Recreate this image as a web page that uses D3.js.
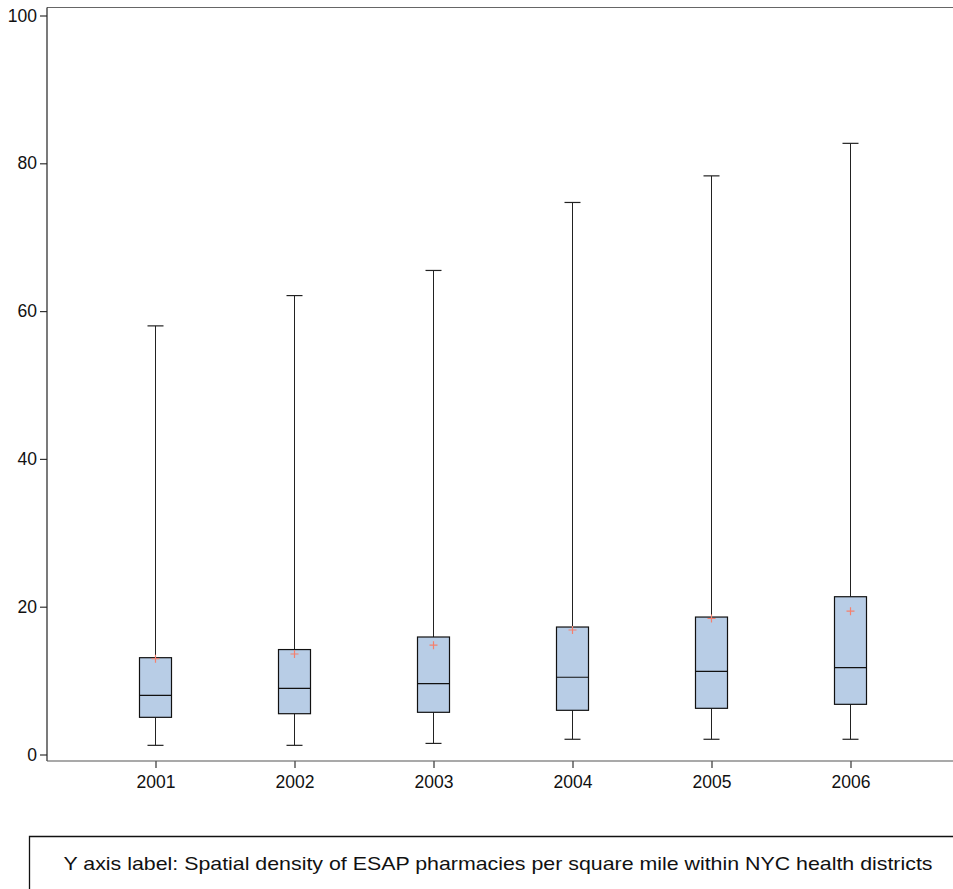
<!DOCTYPE html>
<html><head><meta charset="utf-8">
<script src="https://cdn.jsdelivr.net/npm/d3@7"></script>
<style>body{margin:0;background:#fff}svg{display:block}</style>
</head><body>
<script>
const years = ["2001","2002","2003","2004","2005","2006"];
const whiskerLow  = [1.24, 1.24, 1.5, 2.06, 2.06, 2.06];
const q1          = [5.03, 5.52, 5.71, 5.98, 6.25, 6.79];
const median      = [8.0, 8.96, 9.58, 10.45, 11.26, 11.75];
const q3          = [13.1, 14.2, 15.9, 17.25, 18.6, 21.35];
const whiskerHigh = [58.0, 62.1, 65.5, 74.7, 78.3, 82.7];
const mean        = [12.96, 13.6, 14.8, 16.85, 18.4, 19.4];
const yTicks = [0, 20, 40, 60, 80, 100];
const caption = "Y axis label: Spatial density of ESAP pharmacies per square mile within NYC health districts";

(function () {
const W = 953, H = 889;
const svg = d3.select("body").append("svg").attr("width", W).attr("height", H);
const font = "'Liberation Sans', Arial, Helvetica, sans-serif";

const y = d3.scaleLinear().domain([0, 100]).range([754.5, 15.5]);
const x = d3.scalePoint().domain(years).range([155.5, 850.5]);

const plotLeft = 47, plotTop = 7.5, plotBottom = 761;

// frame top
svg.append("line").attr("x1", plotLeft).attr("x2", W).attr("y1", plotTop).attr("y2", plotTop)
  .attr("stroke", "#666").attr("stroke-width", 1.2);

// y axis
const yAxis = svg.append("g").attr("transform", `translate(${plotLeft},0)`)
  .call(d3.axisLeft(y).tickValues(yTicks).tickSize(7).tickPadding(3).tickSizeOuter(0));
yAxis.select(".domain").remove();
svg.append("line").attr("x1", plotLeft).attr("x2", plotLeft).attr("y1", plotTop).attr("y2", plotBottom)
  .attr("stroke", "#222").attr("stroke-width", 1.2);
yAxis.selectAll(".tick line").attr("stroke", "#333").attr("stroke-width", 1.2);
yAxis.selectAll("text").attr("font-family", font).attr("font-size", 17.5).attr("fill", "#111");

// x axis
const xAxis = svg.append("g").attr("transform", `translate(0,${plotBottom})`)
  .call(d3.axisBottom(x).tickSize(7).tickPadding(8).tickSizeOuter(0));
xAxis.select(".domain").remove();
svg.append("line").attr("x1", plotLeft).attr("x2", W).attr("y1", plotBottom).attr("y2", plotBottom)
  .attr("stroke", "#555").attr("stroke-width", 1.2);
xAxis.selectAll(".tick line").attr("stroke", "#333").attr("stroke-width", 1.2);
xAxis.selectAll("text").attr("font-family", font).attr("font-size", 17.5).attr("fill", "#111");

// boxes
const boxW = 32, capW = 16;
const data = years.map((yr, i) => ({yr, lo: whiskerLow[i], q1: q1[i], med: median[i], q3: q3[i], hi: whiskerHigh[i], mean: mean[i]}));
const g = svg.append("g").selectAll("g").data(data).join("g");
g.append("line").attr("x1", d => x(d.yr)).attr("x2", d => x(d.yr))
  .attr("y1", d => y(d.hi)).attr("y2", d => y(d.q3)).attr("stroke", "#222").attr("stroke-width", 1);
g.append("line").attr("x1", d => x(d.yr)).attr("x2", d => x(d.yr))
  .attr("y1", d => y(d.q1)).attr("y2", d => y(d.lo)).attr("stroke", "#222").attr("stroke-width", 1);
g.append("line").attr("x1", d => x(d.yr) - capW/2).attr("x2", d => x(d.yr) + capW/2)
  .attr("y1", d => y(d.hi)).attr("y2", d => y(d.hi)).attr("stroke", "#222").attr("stroke-width", 1.2);
g.append("line").attr("x1", d => x(d.yr) - capW/2).attr("x2", d => x(d.yr) + capW/2)
  .attr("y1", d => y(d.lo)).attr("y2", d => y(d.lo)).attr("stroke", "#222").attr("stroke-width", 1.2);
g.append("rect").attr("x", d => x(d.yr) - boxW/2).attr("width", boxW)
  .attr("y", d => y(d.q3)).attr("height", d => y(d.q1) - y(d.q3))
  .attr("fill", "#b8cde6").attr("stroke", "#111").attr("stroke-width", 1.2);
g.append("line").attr("x1", d => x(d.yr) - boxW/2).attr("x2", d => x(d.yr) + boxW/2)
  .attr("y1", d => y(d.med)).attr("y2", d => y(d.med)).attr("stroke", "#111").attr("stroke-width", 1.2);
// mean markers
g.append("path").attr("d", d => {
  const cx = x(d.yr), cy = y(d.mean), s = 4;
  return `M${cx - s},${cy}H${cx + s}M${cx},${cy - s}V${cy + s}`;
}).attr("stroke", "#f4806e").attr("stroke-width", 1.2).attr("fill", "none");

// caption box
svg.append("path").attr("d", `M${W},836.5H29.5V${H}`).attr("fill", "none")
  .attr("stroke", "#111").attr("stroke-width", 1.3);
svg.append("text").attr("x", 63.5).attr("y", 870).attr("text-anchor", "start")
  .attr("font-family", font).attr("font-size", 18.5).attr("fill", "#111")
  .attr("textLength", 869).attr("lengthAdjust", "spacingAndGlyphs")
  .text(caption);
})();
</script>
</body></html>
